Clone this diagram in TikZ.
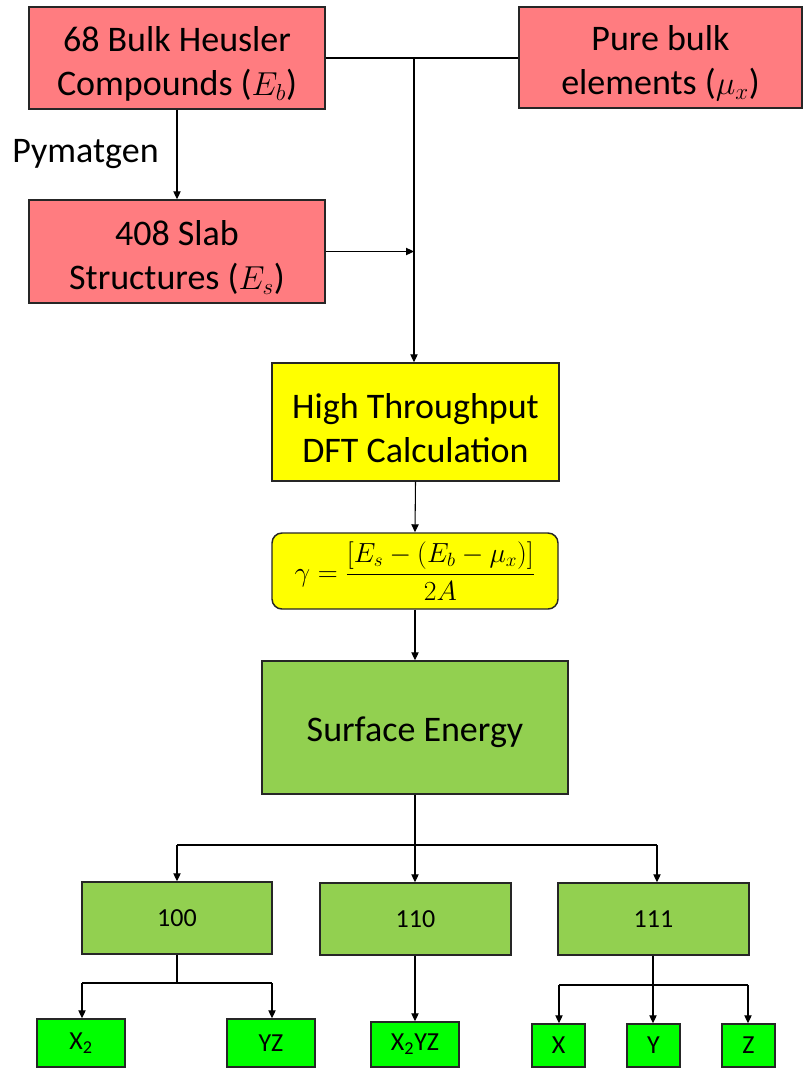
\documentclass[tikz,border=0pt]{standalone}
\usepackage{fontspec}
\setmainfont{Carlito}
\usetikzlibrary{arrows.meta,calc}
\definecolor{boxred}{HTML}{FF7C80}
\definecolor{boxgreen}{HTML}{92D050}
\definecolor{leafgreen}{HTML}{00FF00}
\definecolor{boxyellow}{HTML}{FFFF00}
\newcommand{\topstrut}{\rule{0pt}{28pt}}
\begin{document}
\begin{tikzpicture}[x=0.75pt,y=-0.75pt,
  sz/.style 2 args={minimum width=#1*0.75pt, minimum height=#2*0.75pt},
  box/.style={draw=black!85, line width=1.1pt, inner sep=0pt, align=center},
  bigtext/.style={font=\fontsize{27}{33}\selectfont},
  smalltext/.style={font=\fontsize{19.5}{23}\selectfont},
  redbox/.style={box, fill=boxred, bigtext},
  conn/.style={draw=black, line width=0.8pt},
  arr/.style={conn, -{Triangle[length=6pt,width=5.5pt]}}
]
\useasboundingbox (0,0) rectangle (804,1068);

% top row
\node[redbox, sz={296}{102}] (A) at (177,58) {\topstrut 68 Bulk Heusler\\Compounds ($E_b$)};
\node[redbox, sz={283}{101}] (P) at (660.5,57.5) {\topstrut Pure bulk\\elements ($\mu_x$)};
\node[redbox, sz={296}{103}] (B) at (177,251.5) {\topstrut 408 Slab\\Structures ($E_s$)};
\node[font=\fontsize{27}{33}\selectfont] (pym) at (85.5,154) {Pymatgen};

% middle
\node[box, fill=boxyellow, bigtext, sz={287}{118}] (DFT) at (415.5,422) {\topstrut High Throughput\\DFT Calculation};
\node[box, fill=boxyellow, rounded corners=7.5pt, sz={286}{76}, font=\fontsize{21.5}{25}\selectfont] (F) at (415,571)
  {$\displaystyle \gamma=\frac{[E_s-(E_b-\mu_x)]}{2A}$};
\node[box, fill=boxgreen, bigtext, sz={306}{133}] (S) at (415,727.5) {\rule{0pt}{25pt}Surface Energy};

% facets
\node[box, fill=boxgreen, smalltext, sz={190}{72}] (f100) at (177,918) {100};
\node[box, fill=boxgreen, smalltext, sz={191}{72}] (f110) at (415.5,919) {110};
\node[box, fill=boxgreen, smalltext, sz={191}{72}] (f111) at (653.5,919) {111};

% leaves
\node[box, fill=leafgreen, smalltext, sz={88}{48}] (X2) at (81,1043) {X\textsubscript{2}};
\node[box, fill=leafgreen, smalltext, sz={88}{48}] (YZ) at (271,1043) {YZ};
\node[box, fill=leafgreen, smalltext, sz={88}{45}] (X2YZ) at (415,1044.5) {X\textsubscript{2}YZ};
\node[box, fill=leafgreen, smalltext, sz={53}{43}] (X) at (558.5,1045.5) {X};
\node[box, fill=leafgreen, smalltext, sz={53}{43}] (Y) at (653.5,1045.5) {Y};
\node[box, fill=leafgreen, smalltext, sz={53}{43}] (Z) at (748.5,1045.5) {Z};

% coordinates
\coordinate (J1) at (414,58);
\coordinate (J2) at (415,845);
\coordinate (J2L) at (177,845);
\coordinate (J2R) at (657,845);
\coordinate (J3) at (177,983);
\coordinate (J3L) at (82,983);
\coordinate (J3R) at (272,983);
\coordinate (J4) at (653,985);
\coordinate (J4L) at (559,985);
\coordinate (J4R) at (748,985);

% top connectors
\draw[conn] (A.east |- J1) -- (P.west |- J1);
\draw[arr] (J1) -- (J1 |- DFT.north);
\draw[arr] (A.south) -- (B.north);
\draw[arr] (B.east) -- (J1 |- B.east);
\draw[arr] (DFT.south) -- (F.north);
\draw[arr] (F.south) -- (S.north);

% surface energy split
\draw[conn] (S.south) -- (J2);
\draw[arr] (J2) -- (J2 |- f110.north);
\draw[conn] (J2L) -- (J2R);
\draw[arr] (J2L) -- (J2L |- f100.north);
\draw[arr] (J2R) -- (J2R |- f111.north);

% 100 split
\draw[conn] (f100.south) -- (J3);
\draw[conn] (J3L) -- (J3R);
\draw[arr] (J3L) -- (J3L |- X2.north);
\draw[arr] (J3R) -- (J3R |- YZ.north);

% 110
\draw[arr] (f110.south -| J2) -- (J2 |- X2YZ.north);

% 111 split
\draw[arr] (f111.south -| J4) -- (J4 |- Y.north);
\draw[conn] (J4L) -- (J4R);
\draw[arr] (J4L) -- (J4L |- X.north);
\draw[arr] (J4R) -- (J4R |- Z.north);
\end{tikzpicture}
\end{document}
